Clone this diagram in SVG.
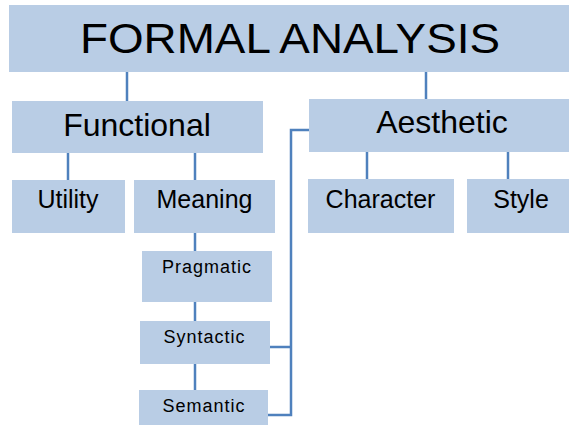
<svg xmlns="http://www.w3.org/2000/svg" width="569" height="427" viewBox="0 0 569 427">
<style>
.box{fill:#b9cde5;}
.t{font-family:"Liberation Sans",Arial,sans-serif;fill:#000;text-anchor:middle;}
.s{font-size:18px;letter-spacing:1px;}
.c{stroke:#4f81bd;stroke-width:2.5;fill:none;}
</style>
<rect width="569" height="427" fill="#fff"/>
<g id="connectors">
<line class="c" x1="127" y1="72" x2="127" y2="101"/>
<line class="c" x1="426" y1="72" x2="426" y2="99"/>
<line class="c" x1="68" y1="153" x2="68" y2="180"/>
<line class="c" x1="195" y1="153" x2="195" y2="180"/>
<line class="c" x1="367" y1="152" x2="367" y2="179"/>
<line class="c" x1="508" y1="152" x2="508" y2="179"/>
<line class="c" x1="195" y1="233" x2="195" y2="251"/>
<line class="c" x1="195" y1="302" x2="195" y2="321"/>
<line class="c" x1="195" y1="364" x2="195" y2="390"/>
<polyline class="c" points="270,347 291,347"/>
<polyline class="c" points="268,415 291,415 291,130 309,130"/>
</g>
<g id="formal-analysis">
<rect class="box" x="9" y="5" width="560" height="67"/>
<text class="t" x="290" y="53" font-size="42" textLength="420" lengthAdjust="spacingAndGlyphs">FORMAL ANALYSIS</text>
</g>
<g id="functional">
<rect class="box" x="12" y="101" width="251" height="52"/>
<text class="t" x="137" y="136" font-size="32">Functional</text>
</g>
<g id="aesthetic">
<rect class="box" x="309" y="99" width="260" height="53"/>
<text class="t" x="442" y="133" font-size="32">Aesthetic</text>
</g>
<g id="utility">
<rect class="box" x="12" y="180" width="113" height="53"/>
<text class="t" x="68" y="208" font-size="25">Utility</text>
</g>
<g id="meaning">
<rect class="box" x="134" y="180" width="141" height="53"/>
<text class="t" x="204.5" y="208" font-size="25">Meaning</text>
</g>
<g id="character">
<rect class="box" x="308" y="179" width="146" height="54"/>
<text class="t" x="380.5" y="208" font-size="25">Character</text>
</g>
<g id="style">
<rect class="box" x="467" y="179" width="102" height="54"/>
<text class="t" x="521" y="208" font-size="25">Style</text>
</g>
<g id="pragmatic">
<rect class="box" x="142" y="251" width="130" height="51"/>
<text class="t s" x="207" y="273">Pragmatic</text>
</g>
<g id="syntactic">
<rect class="box" x="140" y="321" width="130" height="43"/>
<text class="t s" x="204.5" y="343">Syntactic</text>
</g>
<g id="semantic">
<rect class="box" x="139" y="390" width="129" height="35"/>
<text class="t s" x="204" y="412">Semantic</text>
</g>
</svg>
